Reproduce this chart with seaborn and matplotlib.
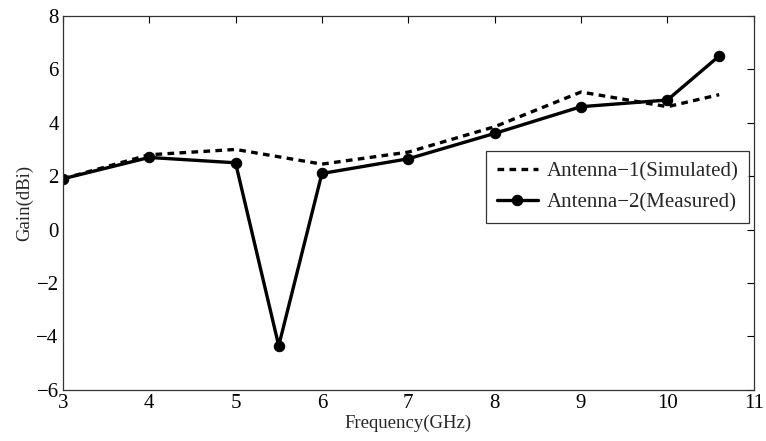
import pandas as pd
import matplotlib.pyplot as plt
import seaborn as sns

freq_sim = [3, 4, 5, 6, 7, 8, 9, 10, 10.6]
gain_sim = [1.9, 2.8, 3.0, 2.45, 2.9, 3.85, 5.15, 4.6, 5.05]

freq_meas = [3, 4, 5, 5.5, 6, 7, 8, 9, 10, 10.6]
gain_meas = [1.9, 2.7, 2.5, -4.35, 2.1, 2.65, 3.6, 4.6, 4.85, 6.5]

sns.set_theme(style='white')
plt.rcParams['font.family'] = ['Liberation Serif', 'DejaVu Serif']

fig = plt.figure(figsize=(7.66, 4.41), dpi=100)
ax = fig.add_axes([0.082, 0.116, 0.902, 0.848])

sim_df = pd.DataFrame({'freq': freq_sim, 'gain': gain_sim})
meas_df = pd.DataFrame({'freq': freq_meas, 'gain': gain_meas})

sns.lineplot(data=sim_df, x='freq', y='gain', ax=ax, color='black',
             linewidth=2.4, linestyle=(0, (2, 1.6)), label='Antenna\u22121(Simulated)')
sns.lineplot(data=meas_df, x='freq', y='gain', ax=ax, color='black',
             linewidth=2.4, marker='o', markersize=7.5, markeredgecolor='black',
             markerfacecolor='black', label='Antenna\u22122(Measured)')

ax.set_xlim(3, 11)
ax.set_ylim(-6, 8)
ax.set_xticks(range(3, 12))
ax.set_yticks(range(-6, 9, 2))
ax.set_yticklabels([str(v).replace('-', '\u2212') for v in range(-6, 9, 2)])
ax.set_xlabel('Frequency(GHz)', fontsize=13.5, labelpad=1)
ax.set_ylabel('Gain(dBi)', fontsize=13.5, labelpad=2)
ax.tick_params(direction='in', top=True, right=True, length=5, width=0.8,
               labelsize=15, colors='black', pad=3)
for s in ax.spines.values():
    s.set_color('#333333')
    s.set_linewidth(0.9)

leg = ax.legend(loc='upper right', bbox_to_anchor=(0.993, 0.638), borderaxespad=0,
                fontsize=15, frameon=True, fancybox=False, edgecolor='black',
                handlelength=2.0, handletextpad=0.4, borderpad=0.5, labelspacing=0.55)
leg.get_frame().set_linewidth(0.9)

fig.savefig('out.png', dpi=100)
